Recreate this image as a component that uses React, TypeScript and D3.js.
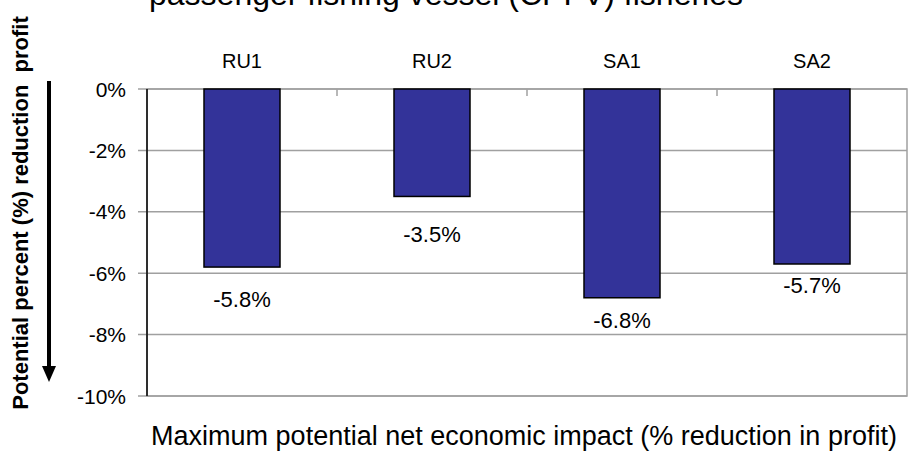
import React from "react";
import * as d3 from "d3";

// ---- chart data ----
const categories = ["RU1", "RU2", "SA1", "SA2"];
const values = [-5.8, -3.5, -6.8, -5.7];
const yTicks = [0, -2, -4, -6, -8, -10];

const titleText = "passenger fishing vessel (CPFV) fisheries";
const xTitle = "Maximum potential net economic impact (% reduction in profit)";
const yTitle = "Potential percent (%) reduction  profit";

const W = 915;
const H = 455;
const margin = { top: 89, right: 8, bottom: 59, left: 147 };
const font = "'Liberation Sans', Arial, sans-serif";

export default function App() {
  const plotW = W - margin.left - margin.right;
  const plotH = H - margin.top - margin.bottom;

  const x = d3
    .scaleBand()
    .domain(categories)
    .range([0, plotW])
    .paddingInner(0.6)
    .paddingOuter(0.3);

  const y = d3.scaleLinear().domain([0, -10]).range([0, plotH]);

  // hand nudges for the value labels (below each bar end), like the original
  const labelDy = [40, 46, 30, 29];

  const step = x.step();

  return (
    <svg
      width={W}
      height={H}
      style={{ position: "absolute", left: 0, top: 0, background: "#fff" }}
      fontFamily={font}
    >
      {/* title (mostly cut off at the top, as in the source) */}
      <text x={446} y={5} textAnchor="middle" fontSize={32} fill="#000">
        {titleText}
      </text>

      <g transform={`translate(${margin.left},${margin.top})`}>
        {/* plot frame */}
        <rect x={0} y={0} width={plotW} height={plotH} fill="#fff" stroke="#a0a0a0" strokeWidth={1.5} />

        {/* gridlines + y ticks */}
        {yTicks.map((t) => (
          <g key={t}>
            <line x1={-9} x2={plotW} y1={y(t)} y2={y(t)} stroke="#a0a0a0" strokeWidth={1.5} />
            <text x={-21} y={y(t) + 7.5} textAnchor="end" fontSize={21} fill="#000">
              {t + "%"}
            </text>
          </g>
        ))}

        {/* x axis ticks at category boundaries */}
        {categories.slice(1).map((c) => (
          <line
            key={c}
            x1={x(c)! - (step - x.bandwidth()) / 2}
            x2={x(c)! - (step - x.bandwidth()) / 2}
            y1={0}
            y2={7}
            stroke="#a0a0a0"
            strokeWidth={1.5}
          />
        ))}

        {/* bars */}
        {categories.map((c, i) => (
          <rect
            key={c}
            x={x(c)}
            y={y(0)}
            width={x.bandwidth()}
            height={y(values[i]) - y(0)}
            fill="#333399"
            stroke="#000"
            strokeWidth={1.5}
          />
        ))}

        {/* left axis line */}
        <line x1={0} x2={0} y1={0} y2={plotH} stroke="#000" strokeWidth={1.5} />

        {/* category labels above plot */}
        {categories.map((c) => (
          <text
            key={c}
            x={x(c)! + x.bandwidth() / 2}
            y={-21}
            textAnchor="middle"
            fontSize={20}
            fill="#000"
          >
            {c}
          </text>
        ))}

        {/* value labels */}
        {categories.map((c, i) => (
          <text
            key={c}
            x={x(c)! + x.bandwidth() / 2}
            y={y(values[i]) + labelDy[i]}
            textAnchor="middle"
            fontSize={22}
            fill="#000"
          >
            {values[i].toFixed(1) + "%"}
          </text>
        ))}

        {/* x title */}
        <text x={plotW / 2 - 3} y={plotH + 49} textAnchor="middle" fontSize={27} fill="#000">
          {xTitle}
        </text>
      </g>

      {/* y title and arrow */}
      <text
        transform="translate(28,213) rotate(-90)"
        textAnchor="middle"
        fontSize={22}
        fontWeight="bold"
        fill="#000"
        style={{ whiteSpace: "pre" }}
      >
        {yTitle}
      </text>
      <line x1={49} x2={49} y1={81} y2={370} stroke="#000" strokeWidth={4} />
      <path d="M42,366 L56,366 L49,382 Z" fill="#000" />
    </svg>
  );
}
